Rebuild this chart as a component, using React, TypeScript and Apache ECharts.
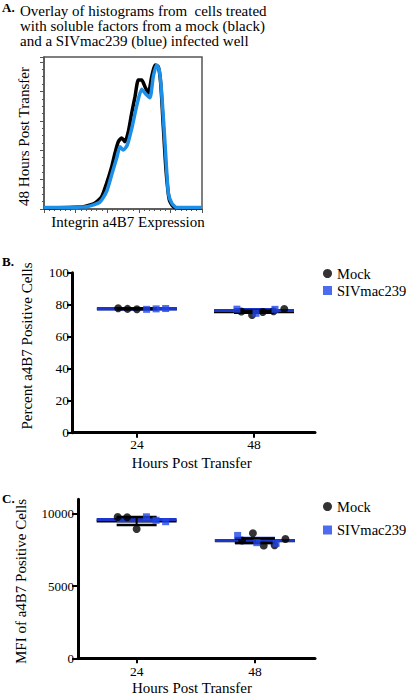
import React, { useEffect, useRef } from "react";
import * as echarts from "echarts";

const FONT = "Liberation Serif, Times New Roman, serif";

// Panel A: histogram traces [channel, count]
const mockHist: number[][] = [
  [0, 1], [39.3, 2.3], [51, 6], [57.7, 12.3], [62.7, 26], [67.7, 42.3], [71, 56], [74.3, 67.3],
  [77.7, 71], [81, 67.3], [84.3, 77.3], [87.7, 96], [91, 112.3], [94.3, 129], [97.7, 129],
  [101, 122.3], [104.3, 115.7], [107.7, 132.3], [111, 144], [114.3, 142.3], [116.7, 125.7],
  [119.3, 82.3], [122, 39], [125.3, 9], [129.3, 2.3], [136, 1], [158, 1],
];
const sivHist: number[][] = [
  [0, 1.5], [42.7, 2.3], [56, 7], [62.7, 17.7], [67.7, 34.3], [72.7, 51], [76, 62.3], [79.3, 59],
  [83.3, 64], [87.7, 80.3], [92.7, 103.3], [97.7, 119.7], [102, 114.7], [106, 111.3],
  [109.3, 132.7], [112.7, 144], [115.3, 139], [117.7, 115.7], [121, 65.7], [124.3, 16.3],
  [127.7, 6], [132.7, 1.5], [158, 1.5],
];

// Panels B and C
const hours = [24, 48];
const pctMock24 = [77.8, 77.4, 77.2];
const pctSiv24 = [77.1, 77.4, 77.6];
const pctMock48 = [75.8, 73.6, 75.4, 75.9, 77.3];
const pctSiv48 = [77.2, 74.6, 77.1];
const mfiMock24 = [9780, 9760, 8950];
const mfiSiv24 = [9790, 9550, 9450];
const mfiMock48 = [8150, 8650, 7800, 7820, 8250];
const mfiSiv48 = [8500, 8000, 7950];

const pctTicks = [0, 20, 40, 60, 80, 100];
const mfiTicks = [0, 5000, 10000];

const BLACK = "#000000";
const BLUE = "#2146ea";
const BLUE_LINE = "#1b36c8";
const HIST_BLUE = "#1e8fe6";

function stats(v: number[]) {
  const m = v.reduce((a, b) => a + b, 0) / v.length;
  const sd = Math.sqrt(v.reduce((a, b) => a + (b - m) * (b - m), 0) / (v.length - 1));
  return [m, sd / Math.sqrt(v.length)];
}

function spread(v: number[], hour: number, start: number, step: number) {
  return v.map((y, i) => [hour + start + i * step, y]);
}

function meanRender(halfW: number, color: string) {
  return (params: any, api: any) => {
    const c = api.coord([api.value(0), api.value(1)]);
    return {
      type: "line",
      shape: { x1: c[0] - halfW, y1: c[1], x2: c[0] + halfW, y2: c[1] },
      style: { stroke: color, lineWidth: 3 },
    };
  };
}

function semRender(halfW: number, color: string) {
  return (params: any, api: any) => {
    const x = api.value(0);
    const m = api.value(1);
    const s = api.value(2);
    const t = api.coord([x, m + s]);
    const b = api.coord([x, m - s]);
    return {
      type: "group",
      children: [
        { type: "line", shape: { x1: t[0], y1: t[1], x2: b[0], y2: b[1] }, style: { stroke: color, lineWidth: 2 } },
        { type: "line", shape: { x1: t[0] - halfW, y1: t[1], x2: t[0] + halfW, y2: t[1] }, style: { stroke: color, lineWidth: 2.5 } },
        { type: "line", shape: { x1: b[0] - halfW, y1: b[1], x2: b[0] + halfW, y2: b[1] }, style: { stroke: color, lineWidth: 2.5 } },
      ],
    };
  };
}

function groupStats(g24: number[], g48: number[]) {
  const a = stats(g24);
  const b = stats(g48);
  return [[hours[0], a[0], a[1]], [hours[1], b[0], b[1]]];
}

function panelSeries(idx: number, mock24: number[], mock48: number[], siv24: number[], siv48: number[]) {
  const mockStats = groupStats(mock24, mock48);
  const sivStats = groupStats(siv24, siv48);
  return [
    { type: "custom", name: "Mock mean " + idx, xAxisIndex: idx, yAxisIndex: idx, z: 2, data: mockStats, renderItem: meanRender(40, BLACK) },
    { type: "custom", name: "SIV mean " + idx, xAxisIndex: idx, yAxisIndex: idx, z: 3, data: sivStats, renderItem: meanRender(40, BLUE_LINE) },
    { type: "custom", name: "SIV sem " + idx, xAxisIndex: idx, yAxisIndex: idx, z: 4, data: sivStats, renderItem: semRender(20, BLUE_LINE) },
    { type: "custom", name: "Mock sem " + idx, xAxisIndex: idx, yAxisIndex: idx, z: 5, data: mockStats, renderItem: semRender(20, BLACK) },
    {
      type: "scatter", name: "Mock", xAxisIndex: idx, yAxisIndex: idx, z: 6,
      symbol: "circle", symbolSize: 8, itemStyle: { color: BLACK },
      data: [...spread(mock24, hours[0], -3.84, 1.92), ...spread(mock48, hours[1], -2.6, 2.2)],
    },
    {
      type: "scatter", name: "SIVmac239", xAxisIndex: idx, yAxisIndex: idx, z: 6,
      symbol: "rect", symbolSize: 7, itemStyle: { color: BLUE },
      data: [...spread(siv24, hours[0], 1.99, 1.95), ...spread(siv48, hours[1], -3.5, 3.9)],
    },
  ];
}

const axisLineThick = { show: true, lineStyle: { color: BLACK, width: 3 } };
const labelStyle = { fontFamily: FONT, fontSize: 13.5, color: BLACK };

function txt(text: string, x: number, y: number, opts: any = {}) {
  return {
    type: "text",
    x,
    y,
    rotation: opts.rotation || 0,
    style: {
      text,
      fill: BLACK,
      fontFamily: FONT,
      fontSize: opts.fontSize || 15,
      fontWeight: opts.fontWeight || "normal",
      textAlign: opts.align || "center",
      align: opts.align || "center",
      textVerticalAlign: "middle",
      verticalAlign: "middle",
    },
  };
}

export default function App() {
  const ref = useRef<HTMLDivElement>(null);
  useEffect(() => {
    document.body.style.margin = "0";
    if (!ref.current) return;
    const chart = echarts.init(ref.current, null, { renderer: "svg" });
    const legendBase = {
      orient: "vertical",
      left: 323,
      padding: 0,
      itemWidth: 9,
      itemHeight: 9,
      textStyle: { fontFamily: FONT, fontSize: 14.5, color: BLACK },
      data: [
        { name: "Mock", icon: "circle" },
        { name: "SIVmac239", icon: "rect" },
      ],
      selectedMode: false,
    };
    chart.setOption({
      animation: false,
      backgroundColor: "#ffffff",
      textStyle: { fontFamily: FONT },
      grid: [
        { left: 44, top: 57, width: 158, height: 152, show: true, borderColor: "#555", borderWidth: 1.5, backgroundColor: "transparent" },
        { left: 72, top: 272.7, width: 243, height: 160 },
        { left: 78, top: 499.3, width: 237, height: 159 },
      ],
      xAxis: [
        {
          type: "value", gridIndex: 0, min: 0, max: 158, interval: 31.6,
          axisLine: { show: true, lineStyle: { color: "#555", width: 1.5 } },
          axisTick: { show: true, length: 4, lineStyle: { color: "#555" } },
          minorTick: { show: true, splitNumber: 6, length: 2, lineStyle: { color: "#555" } },
          axisLabel: { show: false }, splitLine: { show: false },
        },
        {
          type: "value", gridIndex: 1, min: 10.7, max: 60.5,
          axisLine: axisLineThick,
          axisTick: { show: true, length: 5, customValues: hours, lineStyle: { color: BLACK, width: 2 } },
          axisLabel: { ...labelStyle, margin: 5, customValues: hours },
          splitLine: { show: false },
        },
        {
          type: "value", gridIndex: 2, min: 12.1, max: 60.2,
          axisLine: axisLineThick,
          axisTick: { show: true, length: 5, customValues: hours, lineStyle: { color: BLACK, width: 2 } },
          axisLabel: { ...labelStyle, margin: 6, customValues: hours },
          splitLine: { show: false },
        },
      ],
      yAxis: [
        {
          type: "value", gridIndex: 0, min: 0, max: 152, interval: 29.4,
          axisLine: { show: true, lineStyle: { color: "#555", width: 1.5 } },
          axisTick: { show: true, length: 4, lineStyle: { color: "#555" } },
          minorTick: { show: true, splitNumber: 4, length: 2, lineStyle: { color: "#555" } },
          axisLabel: { show: false }, splitLine: { show: false },
        },
        {
          type: "value", gridIndex: 1, min: pctTicks[0], max: pctTicks[pctTicks.length - 1], interval: 20,
          axisLine: axisLineThick,
          axisTick: { show: true, length: 5, lineStyle: { color: BLACK, width: 2 } },
          axisLabel: { ...labelStyle, margin: 3, formatter: (v: number) => String(v) },
          splitLine: { show: false },
        },
        {
          type: "value", gridIndex: 2, min: mfiTicks[0], max: 11000, interval: 5000,
          axisLine: axisLineThick,
          axisTick: { show: true, length: 6, lineStyle: { color: BLACK, width: 2 }, customValues: mfiTicks },
          axisLabel: { ...labelStyle, fontSize: 13, margin: 4, customValues: mfiTicks, formatter: (v: number) => String(v) },
          splitLine: { show: false },
        },
      ],
      legend: [
        { ...legendBase, top: 266, itemGap: 2 },
        { ...legendBase, top: 499, itemGap: 8.5 },
      ],
      series: [
        {
          type: "line", name: "Mock histogram", xAxisIndex: 0, yAxisIndex: 0, z: 3,
          data: mockHist, showSymbol: false, smooth: 0.2,
          lineStyle: { color: BLACK, width: 3.5 },
        },
        {
          type: "line", name: "SIVmac239 histogram", xAxisIndex: 0, yAxisIndex: 0, z: 4,
          data: sivHist, showSymbol: false, smooth: 0.2,
          lineStyle: { color: HIST_BLUE, width: 3.5 },
        },
        ...panelSeries(1, pctMock24, pctMock48, pctSiv24, pctSiv48),
        ...panelSeries(2, mfiMock24, mfiMock48, mfiSiv24, mfiSiv48),
      ],
      graphic: [
        txt("A.", 2, 7, { align: "left", fontSize: 13, fontWeight: "bold" }),
        txt("Overlay of histograms from\u00a0 cells treated", 20, 10.5, { align: "left" }),
        txt("with soluble factors from a mock (black)", 20, 25.5, { align: "left" }),
        txt("and a SIVmac239 (blue) infected well", 20, 41, { align: "left" }),
        txt("48 Hours Post Transfer", 24, 136.5, { rotation: Math.PI / 2 }),
        txt("Integrin a4B7 Expression", 128, 222),
        txt("B.", 2, 261, { align: "left", fontSize: 13, fontWeight: "bold" }),
        txt("Percent a4B7 Positive Cells", 26.7, 346, { rotation: Math.PI / 2 }),
        txt("Hours Post Transfer", 191.7, 463),
        txt("C.", 2, 498, { align: "left", fontSize: 13, fontWeight: "bold" }),
        txt("MFI of a4B7 Positive Cells", 21, 581.5, { rotation: Math.PI / 2 }),
        txt("Hours Post Transfer", 192, 688),
      ],
    });
    return () => chart.dispose();
  }, []);
  return <div ref={ref} style={{ width: 408, height: 696 }} />;
}
